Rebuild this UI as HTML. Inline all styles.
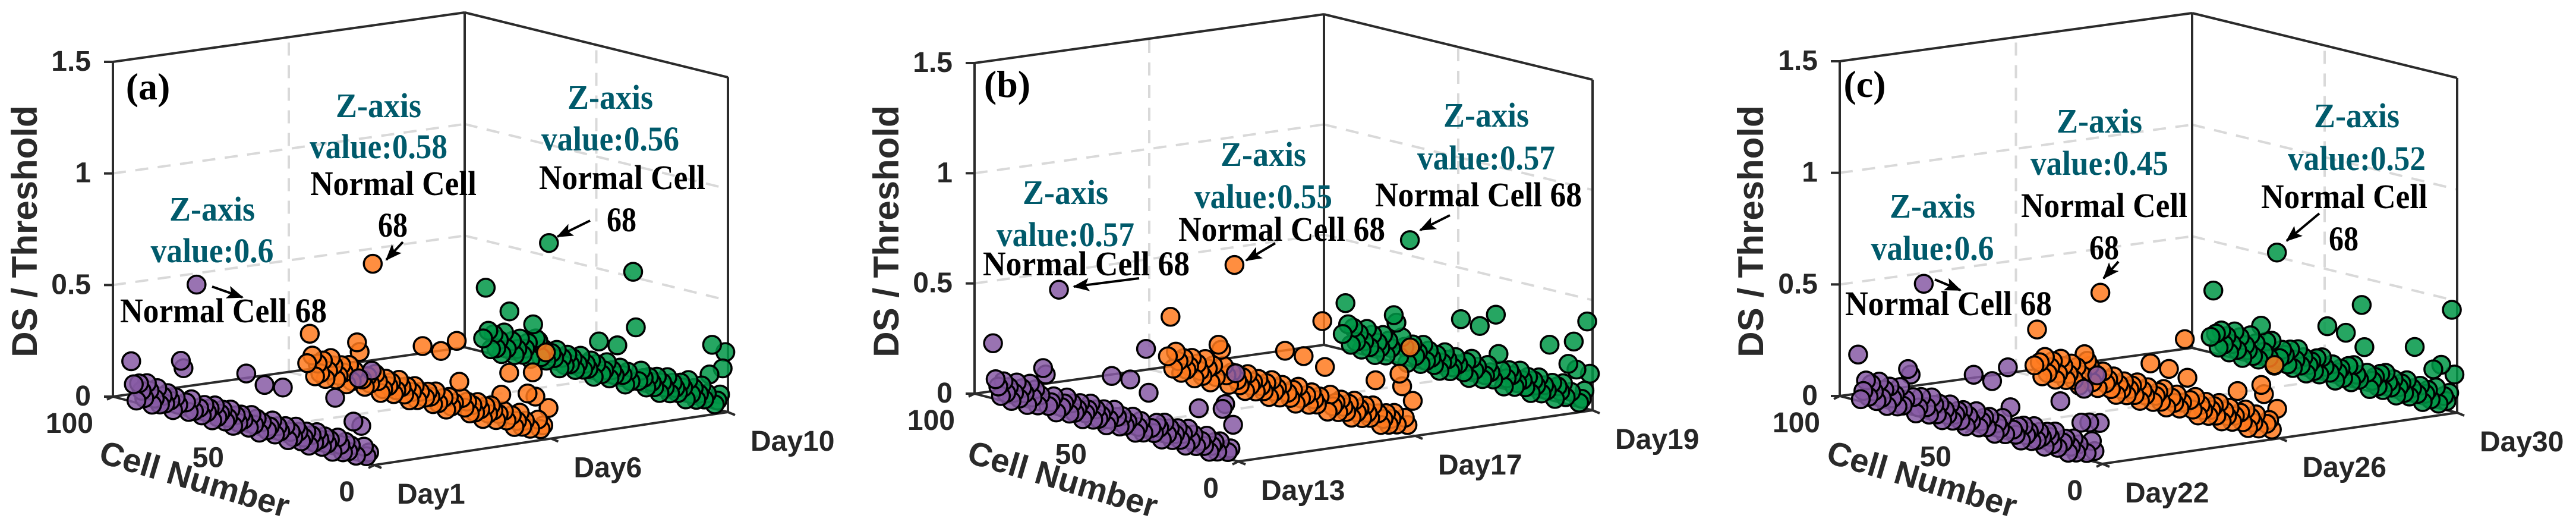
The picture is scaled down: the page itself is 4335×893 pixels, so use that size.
<!DOCTYPE html>
<html lang="en">
<head>
<meta charset="utf-8">
<title>DS / Threshold by cell number and day</title>
<style>
html,body{margin:0;padding:0;background:#fff;}
svg{display:block;}
.tick{font:bold 48px "Liberation Sans",sans-serif;fill:#262626;}
.axt{font:bold 60px "Liberation Sans",sans-serif;fill:#2a2a2a;}
.axc{font:bold 56px "Liberation Sans",sans-serif;fill:#2a2a2a;}
.pl{font:bold 64px "Liberation Serif",serif;fill:#000;}
.tz{font:bold 58px "Liberation Serif",serif;fill:#005a6b;text-anchor:middle;}
.tn{font:bold 58px "Liberation Serif",serif;fill:#000;text-anchor:middle;}
.arr{stroke:#000;stroke-width:4;fill:none;marker-end:url(#arrow-head);}
</style>
</head>
<body>
<svg id="figure" xmlns="http://www.w3.org/2000/svg" width="4335" height="893" viewBox="0 0 4335 893">
<defs>
<marker id="arrow-head" markerUnits="userSpaceOnUse" markerWidth="30" markerHeight="24" refX="26" refY="11" orient="auto">
<path d="M0 0 L28 11 L0 22 L6 11 Z" fill="#000"/>
</marker>
</defs>
<rect width="4335" height="893" fill="#fff"/>

<g id="panel-a" transform="translate(0,0)"></g>
<g transform="translate(0,0)">
<text class="axt" transform="translate(62,389) rotate(-90)" text-anchor="middle">DS / Threshold</text>
<text class="axc" transform="translate(322,824) rotate(16.5)" text-anchor="middle">Cell Number</text>
<text class="pl" x="249" y="167" text-anchor="middle">(a)</text>
<text class="tz" x="357" y="371" textLength="144" lengthAdjust="spacingAndGlyphs">Z-axis</text>
<text class="tz" x="357" y="441" textLength="207" lengthAdjust="spacingAndGlyphs">value:0.6</text>
<text class="tn" x="376" y="542" textLength="348" lengthAdjust="spacingAndGlyphs">Normal Cell 68</text>
<text class="tz" x="637" y="197" textLength="144" lengthAdjust="spacingAndGlyphs">Z-axis</text>
<text class="tz" x="637" y="266" textLength="232" lengthAdjust="spacingAndGlyphs">value:0.58</text>
<text class="tn" x="662" y="328" textLength="280" lengthAdjust="spacingAndGlyphs">Normal Cell</text>
<text class="tn" x="661" y="398" textLength="50" lengthAdjust="spacingAndGlyphs">68</text>
<text class="tz" x="1027" y="183" textLength="144" lengthAdjust="spacingAndGlyphs">Z-axis</text>
<text class="tz" x="1027" y="253" textLength="232" lengthAdjust="spacingAndGlyphs">value:0.56</text>
<text class="tn" x="1047" y="318" textLength="280" lengthAdjust="spacingAndGlyphs">Normal Cell</text>
<text class="tn" x="1046" y="389" textLength="50" lengthAdjust="spacingAndGlyphs">68</text>
<line class="arr" x1="357" y1="482" x2="408" y2="500"/>
<line class="arr" x1="678" y1="407" x2="650" y2="437"/>
<line class="arr" x1="993" y1="371" x2="938" y2="398"/>
</g>

<g id="panel-b" transform="translate(1450,0)"></g>
<g transform="translate(1450,0)">
<text class="axt" transform="translate(62,389) rotate(-90)" text-anchor="middle">DS / Threshold</text>
<text class="axc" transform="translate(333,824) rotate(16.5)" text-anchor="middle">Cell Number</text>
<text class="pl" x="245" y="163" text-anchor="middle">(b)</text>
<text class="tz" x="343" y="343" textLength="144" lengthAdjust="spacingAndGlyphs">Z-axis</text>
<text class="tz" x="343" y="414" textLength="232" lengthAdjust="spacingAndGlyphs">value:0.57</text>
<text class="tn" x="378" y="463" textLength="348" lengthAdjust="spacingAndGlyphs">Normal Cell 68</text>
<text class="tz" x="676" y="279" textLength="144" lengthAdjust="spacingAndGlyphs">Z-axis</text>
<text class="tz" x="676" y="350" textLength="232" lengthAdjust="spacingAndGlyphs">value:0.55</text>
<text class="tn" x="707" y="405" textLength="348" lengthAdjust="spacingAndGlyphs">Normal Cell 68</text>
<text class="tz" x="1051" y="213" textLength="144" lengthAdjust="spacingAndGlyphs">Z-axis</text>
<text class="tz" x="1051" y="285" textLength="232" lengthAdjust="spacingAndGlyphs">value:0.57</text>
<text class="tn" x="1038" y="347" textLength="348" lengthAdjust="spacingAndGlyphs">Normal Cell 68</text>
<line class="arr" x1="467" y1="468" x2="357" y2="482"/>
<line class="arr" x1="696" y1="409" x2="647" y2="438"/>
<line class="arr" x1="990" y1="362" x2="940" y2="387"/>
</g>

<g id="panel-c" transform="translate(2885,0)"></g>
<g transform="translate(2885,0)">
<text class="axt" transform="translate(82,389) rotate(-90)" text-anchor="middle">DS / Threshold</text>
<text class="axc" transform="translate(344,824) rotate(16.5)" text-anchor="middle">Cell Number</text>
<text class="pl" x="253" y="163" text-anchor="middle">(c)</text>
<text class="tz" x="367" y="366" textLength="144" lengthAdjust="spacingAndGlyphs">Z-axis</text>
<text class="tz" x="367" y="437" textLength="207" lengthAdjust="spacingAndGlyphs">value:0.6</text>
<text class="tn" x="394" y="530" textLength="348" lengthAdjust="spacingAndGlyphs">Normal Cell 68</text>
<text class="tz" x="648" y="223" textLength="144" lengthAdjust="spacingAndGlyphs">Z-axis</text>
<text class="tz" x="648" y="294" textLength="232" lengthAdjust="spacingAndGlyphs">value:0.45</text>
<text class="tn" x="656" y="365" textLength="280" lengthAdjust="spacingAndGlyphs">Normal Cell</text>
<text class="tn" x="656" y="436" textLength="50" lengthAdjust="spacingAndGlyphs">68</text>
<text class="tz" x="1081" y="214" textLength="144" lengthAdjust="spacingAndGlyphs">Z-axis</text>
<text class="tz" x="1081" y="286" textLength="232" lengthAdjust="spacingAndGlyphs">value:0.52</text>
<text class="tn" x="1060" y="350" textLength="280" lengthAdjust="spacingAndGlyphs">Normal Cell</text>
<text class="tn" x="1059" y="421" textLength="50" lengthAdjust="spacingAndGlyphs">68</text>
<line class="arr" x1="371" y1="470" x2="414" y2="488"/>
<line class="arr" x1="680" y1="440" x2="655" y2="468"/>
<line class="arr" x1="1018" y1="359" x2="963" y2="405"/>
</g>
</svg>

<script>
// Values below: DS / Threshold per cell number, index 0 = cell 1.
const zTicks = [0, 0.5, 1, 1.5];
const zTickLabels = ["0", "0.5", "1", "1.5"];
const cellTicks = [0, 50, 100];
const cellTickLabels = ["0", "50", "100"];
const dayLabelsA = ["Day1", "Day6", "Day10"];
const dayLabelsB = ["Day13", "Day17", "Day19"];
const dayLabelsC = ["Day22", "Day26", "Day30"];

const purpleA = [.42,.05,.03,.07,.16,.37,.02,.17,.06,.03,
.07,.02,.05,.08,.255,.01,.06,.04,.07,.02,
.05,.08,.03,.06,.01,.07,.04,.02,.06,.08,
.03,.05,.01,.07,.24,.04,.06,.02,.08,.05,
.03,.23,.06,.01,.07,.04,.08,.02,.26,.05,
.07,.03,.06,.01,.08,.04,.02,.07,.05,.03,
.08,.01,.06,.04,.07,.02,.05,.60,.03,.08,
.02,.06,.21,.24,.04,.07,.01,.05,.08,.03,
.06,.02,.09,.04,.01,.07,.10,.03,.06,.09,
.01,.08,.18];
const orangeA = [.134,.38,.05,.03,.07,.17,.276,.02,.175,.05,
.02,.08,.04,.01,.06,.247,.03,.07,.14,.05,
.02,.06,.08,.04,.07,.01,.05,.08,.03,.06,
.02,.07,.04,.08,.15,.33,.05,.03,.07,.01,
.06,.267,.03,.08,.02,.05,.07,.04,.268,.06,
.02,.08,.05,.01,.07,.03,.06,.09,.04,.02,
.07,.05,.08,.03,.01,.06,.09,.58,.04,.07,
.02,.05,.17,.21,.08,.03,.10,.01,.06,.09,
.04,.02,.08,.11,.05,.01,.09,.03,.07,.01,
.10,.195,.06];
const greenA = [.266,.19,.07,.04,.02,.284,.148,.06,.03,.09,
.05,.02,.07,.04,.10,.01,.06,.08,.03,.05,
.07,.02,.09,.04,.06,.01,.08,.03,.05,.07,
.02,.06,.09,.04,.278,.524,.03,.07,.01,.05,
.08,.177,.04,.06,.02,.09,.05,.03,.174,.07,
.01,.08,.04,.06,.03,.09,.05,.02,.07,.04,
.08,.03,.06,.01,.09,.05,.07,.56,.03,.08,
.04,.11,.118,.178,.02,.09,.06,.03,.10,.05,
.02,.08,.21,.04,.11,.01,.07,.03,.09,.02,
.10,.29,.06];

const purpleB = [.397,.16,.05,.03,.245,.22,.07,.02,.06,.04,
.01,.08,.03,.05,.195,.02,.07,.04,.09,.01,
.06,.03,.08,.05,.02,.07,.04,.09,.01,.06,
.08,.03,.05,.207,.403,.02,.07,.04,.01,.08,
.246,.05,.03,.07,.02,.06,.09,.24,.04,.01,
.08,.05,.03,.07,.02,.09,.06,.04,.01,.08,
.05,.03,.07,.02,.09,.06,.04,.57,.01,.08,
.05,.03,.17,.196,.07,.02,.09,.05,.11,.01,
.06,.08,.03,.10,.05,.01,.07,.04,.09,.02,
.06,.09,.25];
const orangeB = [.156,.395,.04,.07,.21,.264,.03,.08,.05,.02,
.07,.04,.01,.06,.207,.09,.03,.05,.08,.02,
.06,.04,.09,.01,.07,.03,.05,.08,.02,.06,
.04,.09,.01,.21,.415,.07,.03,.05,.08,.02,
.06,.235,.04,.09,.01,.07,.03,.05,.238,.08,
.02,.06,.04,.09,.01,.07,.03,.05,.08,.02,
.06,.04,.09,.01,.07,.03,.05,.57,.08,.02,
.06,.10,.17,.19,.04,.09,.01,.07,.11,.03,
.05,.08,.01,.10,.06,.04,.09,.02,.07,.11,
.03,.262,.08];
const greenB = [.163,.397,.08,.04,.02,.167,.291,.06,.184,.03,
.09,.05,.07,.01,.08,.25,.04,.06,.02,.09,
.05,.07,.01,.08,.03,.06,.10,.04,.02,.07,
.09,.05,.01,.08,.152,.327,.03,.06,.09,.04,
.02,.258,.07,.05,.10,.01,.08,.03,.268,.06,
.09,.04,.02,.07,.10,.05,.01,.08,.03,.06,
.09,.04,.11,.02,.07,.05,.10,.57,.01,.08,
.12,.03,.181,.212,.06,.09,.02,.11,.05,.07,
.01,.10,.04,.12,.06,.02,.09,.05,.11,.03,
.12,.213,.07];

const purpleC = [.18,.39,.048,.09,.17,.03,.315,.16,.06,.02,
.08,.04,.01,.07,.05,.232,.02,.09,.03,.06,
.08,.01,.05,.07,.03,.09,.02,.06,.04,.08,
.01,.07,.03,.05,.147,.323,.02,.09,.04,.06,
.01,.243,.08,.03,.07,.05,.02,.09,.25,.04,
.06,.01,.08,.03,.07,.05,.02,.09,.04,.06,
.01,.08,.03,.07,.10,.02,.05,.60,.09,.04,
.01,.08,.178,.20,.06,.03,.11,.02,.07,.05,
.10,.01,.08,.04,.11,.02,.06,.09,.03,.10,
.05,.01,.207];
const orangeC = [.129,.322,.03,.07,.05,.18,.218,.02,.08,.04,
.06,.01,.09,.03,.07,.164,.05,.02,.08,.04,
.06,.01,.09,.03,.07,.05,.02,.08,.04,.06,
.01,.09,.03,.07,.167,.337,.05,.02,.08,.04,
.06,.186,.01,.09,.03,.07,.05,.02,.19,.08,
.04,.06,.01,.09,.03,.07,.05,.02,.08,.04,
.06,.01,.09,.03,.07,.05,.10,.45,.02,.08,
.04,.11,.13,.157,.06,.01,.09,.03,.10,.05,
.02,.08,.11,.04,.01,.09,.06,.03,.10,.01,
.07,.214,.05];
const greenC = [.168,.455,.08,.04,.06,.197,.02,.09,.168,.03,
.07,.05,.01,.08,.04,.248,.06,.02,.09,.03,
.07,.05,.01,.08,.04,.06,.10,.02,.09,.03,
.07,.05,.01,.08,.192,.378,.04,.06,.10,.02,
.09,.236,.03,.07,.05,.01,.08,.04,.245,.06,
.10,.02,.09,.03,.07,.05,.01,.08,.04,.11,
.06,.02,.10,.03,.07,.09,.05,.52,.01,.119,
.04,.11,.06,.175,.02,.09,.03,.12,.05,.07,
.01,.10,.04,.12,.06,.02,.09,.05,.11,.03,
.09,.28,.07];

const SVGNS = "http://www.w3.org/2000/svg";
const Z_MAX = 1.5;

// Layout: floor corners of each 3D box and its height in px.
const layouts = {
  a: {A:[190,667], B:[630,782], C:[1225,693], D:[782,584], H:563},
  b: {A:[190,662], B:[634,776], C:[1230,690], D:[778,580], H:556},
  c: {A:[211,666], B:[653,780], C:[1250,694], D:[804,585], H:563}
};

function project(L, cell, dayFrac, value) {
  const c = cell / 100;
  const f = dayFrac;
  const x = (1-c)*(1-f)*L.B[0] + c*(1-f)*L.A[0] + (1-c)*f*L.C[0] + c*f*L.D[0];
  const y = (1-c)*(1-f)*L.B[1] + c*(1-f)*L.A[1] + (1-c)*f*L.C[1] + c*f*L.D[1];
  return [x, y - value / Z_MAX * L.H];
}

function addLine(parent, p, q, stroke, width, dash) {
  const el = document.createElementNS(SVGNS, "line");
  el.setAttribute("x1", p[0]);
  el.setAttribute("y1", p[1]);
  el.setAttribute("x2", q[0]);
  el.setAttribute("y2", q[1]);
  el.setAttribute("stroke", stroke);
  el.setAttribute("stroke-width", width);
  if (dash) el.setAttribute("stroke-dasharray", dash);
  parent.appendChild(el);
  return el;
}

function addLabel(parent, x, y, text, anchor) {
  const el = document.createElementNS(SVGNS, "text");
  el.setAttribute("class", "tick");
  el.setAttribute("x", x);
  el.setAttribute("y", y);
  el.setAttribute("text-anchor", anchor);
  el.textContent = text;
  parent.appendChild(el);
  return el;
}

function drawSeries(parent, L, values, dayFrac, fill, name) {
  values.forEach(function (v, i) {
    const p = project(L, i + 1, dayFrac, v);
    const dot = document.createElementNS(SVGNS, "circle");
    dot.setAttribute("cx", p[0].toFixed(1));
    dot.setAttribute("cy", p[1].toFixed(1));
    dot.setAttribute("r", "15");
    dot.setAttribute("fill", fill);
    dot.setAttribute("stroke", "#000");
    dot.setAttribute("stroke-width", "3.5");
    
    
    parent.appendChild(dot);
  });
}

function drawPanel(key, dayLabels, purple, orange, green) {
  const g = document.getElementById("panel-" + key);
  const L = layouts[key];
  const GRID = "#d9d9d9";
  const DASH = "22 16";
  const AX = "#2b2b2b";

  // back-wall and floor gridlines
  [0.5, 1].forEach(function (z) {
    const l1 = addLine(g, project(L,100,0,z), project(L,100,1,z), GRID, 4, DASH);
    
    
    const l2 = addLine(g, project(L,100,1,z), project(L,0,1,z), GRID, 4, DASH);
    
    
  });
  const v1 = addLine(g, project(L,100,0.5,0), project(L,100,0.5,Z_MAX), GRID, 4, DASH);
  
  
  const v2 = addLine(g, project(L,50,1,0), project(L,50,1,Z_MAX), GRID, 4, DASH);
  
  
  const f1 = addLine(g, project(L,100,0.5,0), project(L,0,0.5,0), GRID, 4, DASH);
  
  
  const f2 = addLine(g, project(L,50,0,0), project(L,50,1,0), GRID, 4, DASH);
  
  

  // box frame
  const frame = [
    [[100,0,0],[100,0,Z_MAX]], [[100,1,0],[100,1,Z_MAX]], [[0,1,0],[0,1,Z_MAX]],
    [[100,0,Z_MAX],[100,1,Z_MAX]], [[100,1,Z_MAX],[0,1,Z_MAX]],
    [[100,0,0],[100,1,0]], [[100,1,0],[0,1,0]],
    [[100,0,0],[0,0,0]], [[0,0,0],[0,1,0]]
  ];
  frame.forEach(function (s) {
    const ln = addLine(g, project(L,s[0][0],s[0][1],s[0][2]), project(L,s[1][0],s[1][1],s[1][2]), AX, 4);
    
    
  });

  // z axis ticks and labels
  zTicks.forEach(function (z, i) {
    const p = project(L,100,0,z);
    const t = addLine(g, [p[0]-15,p[1]], p, AX, 4);
    
    
    const lab = addLabel(g, p[0]-37, p[1]+15, zTickLabels[i], "end");
    
    
  });

  // cell axis ticks and labels
  cellTicks.forEach(function (c, i) {
    const p = project(L,c,0,0);
    const t = addLine(g, p, [p[0]-10,p[1]+5], AX, 4);
    
    
    const lab = addLabel(g, p[0]-33, p[1]+61, cellTickLabels[i], "end");
    
    
  });

  // day axis ticks and labels
  dayLabels.forEach(function (d, i) {
    const p = project(L,0,i/2,0);
    const t = addLine(g, p, [p[0]+12,p[1]+5], AX, 4);
    
    
    const lab = addLabel(g, p[0]+38, p[1]+65, d, "start");
    
    
  });

  drawSeries(g, L, green, 1, "rgba(0,150,70,.85)", "green-point");
  drawSeries(g, L, orange, 0.5, "rgba(255,122,30,.85)", "orange-point");
  drawSeries(g, L, purple, 0, "rgba(135,90,165,.85)", "purple-point");
}

drawPanel("a", dayLabelsA, purpleA, orangeA, greenA);
drawPanel("b", dayLabelsB, purpleB, orangeB, greenB);
drawPanel("c", dayLabelsC, purpleC, orangeC, greenC);
</script>
</body>
</html>
